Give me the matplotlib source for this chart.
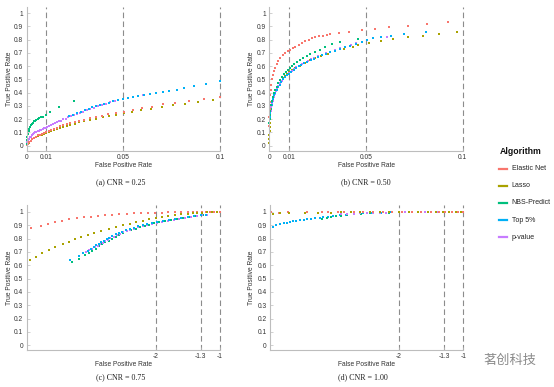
import matplotlib
matplotlib.use("Agg")
from matplotlib import pyplot as plt
from matplotlib.lines import Line2D

plt.rcParams['font.family'] = ['Liberation Sans', 'DejaVu Sans']

W, H = 554, 387

algos = ["Elastic Net", "Lasso", "NBS-Predict", "Top 5%", "p-value"]
colors = {"Elastic Net": "#F8766D", "Lasso": "#A9A200", "NBS-Predict": "#00BF7D",
          "Top 5%": "#00B0F6", "p-value": "#C77CFF"}

# ---- (a) CNR = 0.25, FPR linear ----
red_a_x = [0, 0.0005, 0.001, 0.002, 0.003, 0.004, 0.005, 0.006, 0.007, 0.008, 0.009, 0.0101, 0.0113,
           0.0126, 0.014, 0.0155, 0.0171, 0.0188, 0.0206, 0.0226, 0.0248, 0.0272, 0.0298, 0.0326, 0.0356,
           0.0388, 0.0422, 0.046, 0.0503, 0.0548, 0.0595, 0.0647, 0.0703, 0.0767, 0.0841, 0.0917, 0.1]
red_a_y = [0.005, 0.016, 0.025, 0.039, 0.05, 0.06, 0.069, 0.077, 0.084, 0.091, 0.098, 0.105, 0.113,
           0.121, 0.129, 0.137, 0.145, 0.153, 0.161, 0.17, 0.179, 0.188, 0.197, 0.207, 0.217,
           0.227, 0.237, 0.245, 0.257, 0.27, 0.287, 0.295, 0.313, 0.325, 0.34, 0.353, 0.37]
olive_a_x = [0, 0.0005, 0.001, 0.002, 0.003, 0.004, 0.005, 0.006, 0.007, 0.008, 0.009, 0.0101, 0.0113,
             0.0126, 0.014, 0.0155, 0.0171, 0.0188, 0.0206, 0.0226, 0.0248, 0.0272, 0.0298, 0.0326,
             0.0358, 0.0393, 0.0427, 0.0462, 0.0503, 0.0545, 0.0593, 0.0645, 0.07, 0.0758, 0.082,
             0.0887, 0.0965]
olive_a_y = [0.003, 0.012, 0.022, 0.036, 0.047, 0.056, 0.064, 0.071, 0.077, 0.083, 0.089, 0.095, 0.102,
             0.109, 0.116, 0.124, 0.132, 0.14, 0.148, 0.157, 0.166, 0.175, 0.185, 0.195,
             0.205, 0.215, 0.224, 0.234, 0.244, 0.256, 0.266, 0.278, 0.292, 0.305, 0.318,
             0.33, 0.343]
green_a_x = [0, 0.0002, 0.0004, 0.0007, 0.001, 0.0014, 0.0018, 0.0022, 0.0027, 0.0032, 0.0038, 0.0044,
             0.005, 0.0057, 0.0065, 0.0073, 0.0082, 0.0098, 0.0121, 0.0169, 0.0245]
green_a_y = [0.01, 0.04, 0.065, 0.09, 0.11, 0.128, 0.142, 0.153, 0.164, 0.174, 0.183, 0.19,
             0.196, 0.202, 0.208, 0.213, 0.218, 0.232, 0.258, 0.29, 0.338]
blue_a_x = [0.022, 0.024, 0.026, 0.028, 0.03, 0.032, 0.034, 0.036, 0.038, 0.0402, 0.0425, 0.0448,
            0.0472, 0.0497, 0.0523, 0.055, 0.0578, 0.0607, 0.0638, 0.067, 0.0703, 0.0738, 0.0775,
            0.0815, 0.0865, 0.0925, 0.1]
blue_a_y = [0.222, 0.235, 0.247, 0.258, 0.269, 0.279, 0.289, 0.298, 0.307, 0.316, 0.325, 0.334,
            0.342, 0.35, 0.358, 0.366, 0.374, 0.382, 0.39, 0.398, 0.406, 0.415, 0.424,
            0.434, 0.447, 0.465, 0.485]
purple_a_x = [0, 0.0004, 0.0008, 0.0012, 0.0016, 0.002, 0.0025, 0.003, 0.0035, 0.004, 0.0045, 0.005,
              0.0056, 0.0062, 0.0068, 0.0075, 0.0082, 0.009, 0.0098, 0.0106, 0.0115, 0.0124, 0.0134,
              0.0144, 0.0155, 0.0166, 0.0178, 0.019, 0.0203, 0.0216, 0.023, 0.0245, 0.026, 0.0276,
              0.0292, 0.031, 0.0328, 0.0347, 0.0367, 0.0388, 0.041, 0.0433, 0.0457, 0.0603]
purple_a_y = [0.005, 0.03, 0.043, 0.053, 0.062, 0.069, 0.077, 0.084, 0.09, 0.095, 0.1, 0.104,
              0.109, 0.113, 0.117, 0.122, 0.126, 0.131, 0.135, 0.141, 0.148, 0.155, 0.162,
              0.169, 0.176, 0.183, 0.19, 0.198, 0.205, 0.213, 0.221, 0.23, 0.239, 0.248,
              0.257, 0.266, 0.276, 0.286, 0.296, 0.306, 0.317, 0.327, 0.337, 0.383]

# ---- (b) CNR = 0.50 ----
red_b_x = [0, 0.0001, 0.0002, 0.0003, 0.0005, 0.0007, 0.001, 0.0014, 0.0019, 0.0025, 0.0031, 0.0038,
           0.0047, 0.0057, 0.0069, 0.0083, 0.0096, 0.0109, 0.0122, 0.0134, 0.0151, 0.0169, 0.0187,
           0.0204, 0.0221, 0.0238, 0.0258, 0.0278, 0.0296, 0.0315, 0.0362, 0.0414, 0.0478, 0.0547,
           0.062, 0.0719, 0.0817, 0.0926]
red_b_y = [0.15, 0.22, 0.28, 0.33, 0.38, 0.42, 0.46, 0.5, 0.535, 0.565, 0.59, 0.615,
           0.64, 0.663, 0.683, 0.7, 0.713, 0.725, 0.735, 0.745, 0.76, 0.775, 0.788,
           0.8, 0.81, 0.82, 0.825, 0.83, 0.838, 0.845, 0.852, 0.861, 0.872, 0.883,
           0.895, 0.907, 0.92, 0.932]
olive_b_x = [0.0001, 0.0001, 0.0001, 0.0002, 0.0002, 0.0003, 0.0004, 0.0006, 0.0009, 0.0013, 0.0018,
             0.0024, 0.0031, 0.0039, 0.0048, 0.0058, 0.0069, 0.008, 0.0091, 0.0103, 0.0118, 0.0134,
             0.016, 0.0183, 0.0209, 0.0238, 0.0269, 0.0304, 0.0341, 0.0386, 0.0432, 0.0457, 0.0517,
             0.0578, 0.0641, 0.0716, 0.0793, 0.088, 0.0972]
olive_b_y = [0.02, 0.05, 0.08, 0.11, 0.14, 0.17, 0.2, 0.24, 0.28, 0.32, 0.36,
             0.39, 0.42, 0.445, 0.47, 0.49, 0.51, 0.525, 0.54, 0.555, 0.572, 0.588,
             0.605, 0.625, 0.645, 0.663, 0.675, 0.693, 0.712, 0.73, 0.745, 0.76, 0.775,
             0.792, 0.805, 0.817, 0.832, 0.8425, 0.855]
green_b_x = [0.0001, 0.0002, 0.0003, 0.0005, 0.0007, 0.001, 0.0014, 0.0019, 0.0025, 0.0031, 0.0038,
             0.0047, 0.0057, 0.0068, 0.0078, 0.0088, 0.0097, 0.0107, 0.0118, 0.013, 0.0143, 0.0158,
             0.0175, 0.0193, 0.0212, 0.0235, 0.026, 0.029, 0.0325, 0.0366, 0.0457]
green_b_y = [0.17, 0.2, 0.23, 0.26, 0.28, 0.31, 0.34, 0.37, 0.395, 0.42, 0.445,
             0.47, 0.495, 0.52, 0.54, 0.558, 0.575, 0.59, 0.605, 0.62, 0.635, 0.65,
             0.665, 0.68, 0.695, 0.71, 0.725, 0.745, 0.765, 0.782, 0.807]
blue_b_x = [0.0004, 0.0006, 0.0009, 0.0012, 0.0016, 0.0021, 0.0026, 0.0032, 0.0039, 0.0046, 0.0054,
            0.0063, 0.0072, 0.0082, 0.0092, 0.0103, 0.0114, 0.0126, 0.0139, 0.0152, 0.0166, 0.0181,
            0.0197, 0.0214, 0.0232, 0.0251, 0.0271, 0.0292, 0.0314, 0.0338, 0.0363, 0.039, 0.0418,
            0.0447, 0.0477, 0.0504, 0.0538, 0.0578, 0.063, 0.0698, 0.081]
blue_b_y = [0.22, 0.25, 0.28, 0.305, 0.33, 0.355, 0.38, 0.4, 0.42, 0.44, 0.46,
            0.48, 0.5, 0.515, 0.53, 0.545, 0.56, 0.573, 0.586, 0.598, 0.61, 0.622,
            0.634, 0.646, 0.658, 0.67, 0.682, 0.694, 0.706, 0.718, 0.73, 0.743, 0.756,
            0.769, 0.782, 0.8, 0.81, 0.82, 0.832, 0.8425, 0.86]
purple_b_x = [0.0003, 0.0005, 0.0007, 0.001, 0.0013, 0.0017, 0.0022, 0.0027, 0.0033, 0.004, 0.0047,
              0.0055, 0.0064, 0.0073, 0.0083, 0.0093, 0.0104, 0.0115, 0.0127, 0.014, 0.0153, 0.0167,
              0.0182, 0.0198, 0.0215, 0.0233, 0.0252, 0.0272, 0.0293, 0.0316, 0.034, 0.0366, 0.0394,
              0.0423, 0.045, 0.0607]
purple_b_y = [0.2, 0.23, 0.26, 0.29, 0.315, 0.34, 0.365, 0.39, 0.41, 0.43, 0.45,
              0.47, 0.49, 0.505, 0.52, 0.535, 0.55, 0.565, 0.58, 0.593, 0.605, 0.617,
              0.628, 0.64, 0.652, 0.664, 0.675, 0.687, 0.698, 0.71, 0.722, 0.735, 0.748,
              0.762, 0.775, 0.817]

# ---- (c) CNR = 0.75, log10 FPR ----
red_c_x = [-3.93, -3.78, -3.67, -3.56, -3.45, -3.34, -3.22, -3.11, -3.0, -2.89, -2.78, -2.67, -2.56,
           -2.45, -2.34, -2.23, -2.12, -2.01, -1.9, -1.8, -1.7, -1.6, -1.5, -1.42, -1.35, -1.28,
           -1.22, -1.16, -1.1, -1.05, -1.0]
red_c_y = [0.878, 0.897, 0.91, 0.923, 0.932, 0.945, 0.952, 0.96, 0.966, 0.971, 0.976, 0.98, 0.984,
           0.987, 0.99, 0.992, 0.994, 0.995, 0.996, 0.997, 0.998, 0.998, 0.999, 0.999, 0.999, 1.0,
           1.0, 1.0, 1.0, 1.0, 1.0]
olive_c_x = [-3.95, -3.856, -3.763, -3.66, -3.556, -3.44, -3.34, -3.25, -3.16, -3.05, -2.95, -2.84,
             -2.73, -2.62, -2.51, -2.4, -2.3, -2.2, -2.1, -2.0, -1.9, -1.8, -1.7, -1.6, -1.5,
             -1.42, -1.35, -1.28, -1.2, -1.12, -1.05]
olive_c_y = [0.638, 0.665, 0.69, 0.715, 0.735, 0.757, 0.777, 0.797, 0.815, 0.83, 0.845, 0.86,
             0.875, 0.888, 0.9, 0.912, 0.924, 0.935, 0.945, 0.957, 0.965, 0.972, 0.978, 0.984, 0.988,
             0.991, 0.993, 0.995, 0.997, 0.998, 0.999]
green_c_x = [-3.29, -3.19, -3.09, -3.03, -2.98, -2.93, -2.88, -2.83, -2.78, -2.73, -2.68, -2.62,
             -2.56, -2.5, -2.44, -2.38, -2.31, -2.24, -2.17, -2.1, -2.02, -1.94, -1.85, -1.76,
             -1.67, -1.57, -1.47, -1.37, -1.27]
green_c_y = [0.627, 0.65, 0.677, 0.695, 0.71, 0.725, 0.742, 0.757, 0.772, 0.786, 0.8, 0.815,
             0.83, 0.843, 0.854, 0.864, 0.875, 0.886, 0.896, 0.905, 0.914, 0.922, 0.931, 0.94,
             0.948, 0.956, 0.964, 0.971, 0.978]
blue_c_x = [-3.33, -3.19, -3.12, -3.05, -3.0, -2.96, -2.92, -2.88, -2.84, -2.8, -2.76, -2.72, -2.67,
            -2.62, -2.57, -2.52, -2.46, -2.4, -2.34, -2.27, -2.2, -2.13, -2.05, -1.97, -1.88,
            -1.79, -1.7, -1.6, -1.5, -1.4, -1.3, -1.22]
blue_c_y = [0.64, 0.672, 0.692, 0.71, 0.725, 0.737, 0.749, 0.761, 0.773, 0.785, 0.797, 0.808, 0.82,
            0.832, 0.843, 0.853, 0.864, 0.874, 0.883, 0.892, 0.9, 0.908, 0.917, 0.925, 0.934,
            0.942, 0.95, 0.958, 0.965, 0.971, 0.977, 0.981]
purple_c_x = [-3.13, -3.08, -3.03, -2.98, -2.94, -2.9, -2.86, -2.82, -2.78, -2.74, -2.7, -2.65,
              -2.6, -2.55, -2.5, -2.45, -2.39, -2.33, -2.27, -2.2, -2.13, -2.06, -1.98, -1.9,
              -1.81, -1.72, -1.63, -1.54, -1.45, -1.36, -1.28, -1.2]
purple_c_y = [0.69, 0.7, 0.712, 0.725, 0.737, 0.748, 0.759, 0.77, 0.781, 0.792, 0.802, 0.814,
              0.826, 0.837, 0.847, 0.857, 0.867, 0.876, 0.885, 0.894, 0.903, 0.911, 0.919, 0.927,
              0.935, 0.943, 0.951, 0.958, 0.965, 0.971, 0.976, 0.98]

# ---- (d) CNR = 1.00 ----
red_d_x = [-3.98, -3.86, -3.72, -3.43, -3.2, -3.1, -2.95, -2.85, -2.7, -2.55, -2.4, -2.25, -2.1,
           -1.95, -1.8, -1.65, -1.5, -1.38, -1.28, -1.18, -1.08, -1.0]
red_d_y = [0.997, 0.996, 0.997, 0.998, 0.998, 0.999, 0.999, 1.0, 1.0, 1.0, 1.0, 1.0, 1.0,
           1.0, 1.0, 1.0, 1.0, 1.0, 1.0, 1.0, 1.0, 1.0]
olive_d_x = [-3.96, -3.85, -3.7, -3.45, -3.25, -3.05, -2.9, -2.75, -2.6, -2.45, -2.3, -2.15, -2.0,
             -1.85, -1.7, -1.55, -1.42, -1.32, -1.22, -1.12, -1.04]
olive_d_y = [0.983, 0.99, 0.99, 0.992, 0.995, 0.996, 0.997, 0.998, 0.998, 0.999, 0.999, 1.0, 1.0,
             1.0, 1.0, 1.0, 1.0, 1.0, 1.0, 1.0, 1.0]
green_d_x = [-3.2, -3.12, -3.05, -2.98, -2.9, -2.8, -2.7, -2.58, -2.45, -2.3, -2.15, -2.0, -1.8, -1.6]
green_d_y = [0.948, 0.955, 0.962, 0.968, 0.973, 0.978, 0.983, 0.987, 0.99, 0.993, 0.995, 0.997,
             0.998, 0.999]
blue_d_x = [-3.95, -3.9, -3.85, -3.79, -3.74, -3.69, -3.64, -3.59, -3.54, -3.48, -3.43, -3.37, -3.3,
            -3.23, -3.17, -3.1, -3.02, -2.92, -2.82, -2.7, -2.56, -2.42, -2.28, -2.14, -2.0,
            -1.85, -1.7, -1.55, -1.4, -1.3]
blue_d_y = [0.89, 0.9, 0.908, 0.915, 0.92, 0.925, 0.93, 0.934, 0.938, 0.942, 0.945, 0.949, 0.954,
            0.958, 0.962, 0.966, 0.97, 0.975, 0.98, 0.985, 0.99, 0.993, 0.995, 0.997, 0.998,
            0.999, 0.999, 1.0, 1.0, 1.0]
purple_d_x = [-2.9, -2.8, -2.7, -2.6, -2.5, -2.4, -2.3, -2.2, -2.1, -2.0, -1.9, -1.8, -1.7, -1.6,
              -1.5, -1.4, -1.3]
purple_d_y = [0.982, 0.985, 0.988, 0.99, 0.992, 0.993, 0.995, 0.996, 0.997, 0.998, 0.998, 0.999,
              0.999, 1.0, 1.0, 1.0, 1.0]

panels = [
    dict(rect=(26.7, 220, 7.3, 150.7), xlim=(0, 0.1), ylim=(-0.038, 1.045),
         vlines=[0.01, 0.05, 0.1], xticks=[0, 0.01, 0.05, 0.1], xtl=["0", "0.01", "0.05", "0.1"],
         caption="(a) CNR = 0.25", cap_x=120.5, cap_y=181.7, xl_x=123.8, xl_y=165.7,
         data={"p-value": (purple_a_x, purple_a_y), "Top 5%": (blue_a_x, blue_a_y),
               "Lasso": (olive_a_x, olive_a_y), "Elastic Net": (red_a_x, red_a_y),
               "NBS-Predict": (green_a_x, green_a_y)}),
    dict(rect=(269.3, 462.7, 7.3, 150.7), xlim=(0, 0.1), ylim=(-0.038, 1.045),
         vlines=[0.01, 0.05, 0.1], xticks=[0, 0.01, 0.05, 0.1], xtl=["0", "0.01", "0.05", "0.1"],
         caption="(b) CNR = 0.50", cap_x=366, cap_y=181.7, xl_x=366, xl_y=165.7,
         data={"Lasso": (olive_b_x, olive_b_y), "p-value": (purple_b_x, purple_b_y),
               "Top 5%": (blue_b_x, blue_b_y), "NBS-Predict": (green_b_x, green_b_y),
               "Elastic Net": (red_b_x, red_b_y)}),
    dict(rect=(26.7, 220, 205.3, 350), xlim=(-4, -1), ylim=(-0.035, 1.05),
         vlines=[-2, -1.3, -1], xticks=[-2, -1.3, -1], xtl=["-2", "-1.3", "-1"],
         caption="(c) CNR = 0.75", cap_x=120.5, cap_y=377.3, xl_x=123.8, xl_y=364,
         data={"Elastic Net": (red_c_x, red_c_y), "Lasso": (olive_c_x, olive_c_y),
               "NBS-Predict": (green_c_x, green_c_y), "p-value": (purple_c_x, purple_c_y),
               "Top 5%": (blue_c_x, blue_c_y)}),
    dict(rect=(270, 463.3, 205.3, 350), xlim=(-4, -1), ylim=(-0.035, 1.05),
         vlines=[-2, -1.3, -1], xticks=[-2, -1.3, -1], xtl=["-2", "-1.3", "-1"],
         caption="(d) CNR = 1.00", cap_x=363.2, cap_y=377.3, xl_x=366.3, xl_y=364,
         data={"Top 5%": (blue_d_x, blue_d_y), "NBS-Predict": (green_d_x, green_d_y),
               "p-value": (purple_d_x, purple_d_y), "Elastic Net": (red_d_x, red_d_y),
               "Lasso": (olive_d_x, olive_d_y)}),
]

fig = plt.figure(figsize=(W / 100, H / 100), dpi=100)

for p in panels:
    l, r, t, b = p["rect"]
    ax = fig.add_axes([l / W, 1 - b / H, (r - l) / W, (b - t) / H])
    for name, (xs, ys) in p["data"].items():
        ax.plot(xs, ys, linestyle="none", marker="s", ms=1.8, mew=0,
                color=colors[name], clip_on=False)
    for v in p["vlines"]:
        ax.axvline(v, color="#8C8C8C", lw=0.8, ls=(0, (5, 3)), zorder=0, clip_on=False)
    ax.set_xlim(*p["xlim"])
    ax.set_ylim(*p["ylim"])
    ax.set_xticks(p["xticks"])
    ax.set_xticklabels(p["xtl"])
    ax.set_yticks([i / 10 for i in range(11)])
    ax.set_yticklabels(["0"] + ["0.%d" % i for i in range(1, 10)] + ["1"])
    for s in ["top", "right"]:
        ax.spines[s].set_visible(False)
    for s in ["left", "bottom"]:
        ax.spines[s].set_color("#BDBDBD")
        ax.spines[s].set_linewidth(0.8)
    ax.tick_params(direction="in", length=2, width=0.5, color="#BDBDBD",
                   labelsize=4.8, labelcolor="#333333", pad=2.5)
    fig.text(p["xl_x"] / W, 1 - p["xl_y"] / H, "False Positive Rate", fontsize=4.8,
             color="#333333", ha="center", va="center")
    fig.text(10 / W if l < 100 else 251.5 / W, 1 - (t + b) / 2 / H, "True Positive Rate",
             fontsize=4.8, color="#333333", ha="center", va="center", rotation=90)
    fig.text(p["cap_x"] / W, 1 - p["cap_y"] / H, p["caption"], fontsize=5.8,
             family="Liberation Serif", color="#222222", ha="center", va="center")

# legend
fig.text(500 / W, 1 - 151 / H, "Algorithm", fontsize=6.3, fontweight="bold",
         color="#111111", ha="left", va="center")
for i, name in enumerate(algos):
    y = 1 - (168.5 + 17.2 * i) / H
    fig.add_artist(Line2D([498.5 / W, 507 / W], [y, y], color=colors[name], lw=1.6,
                          transform=fig.transFigure))
    fig.text(511.5 / W, y, name, fontsize=5.0, color="#222222", ha="left", va="center")

# watermark
fig.text(483 / W, 1 - 360 / H, "茗创科技", fontsize=9.5, color="#8A8A8A",
         family=["Noto Sans CJK SC", "DejaVu Sans"], ha="left", va="center")

plt.savefig("out.png", dpi=100)
